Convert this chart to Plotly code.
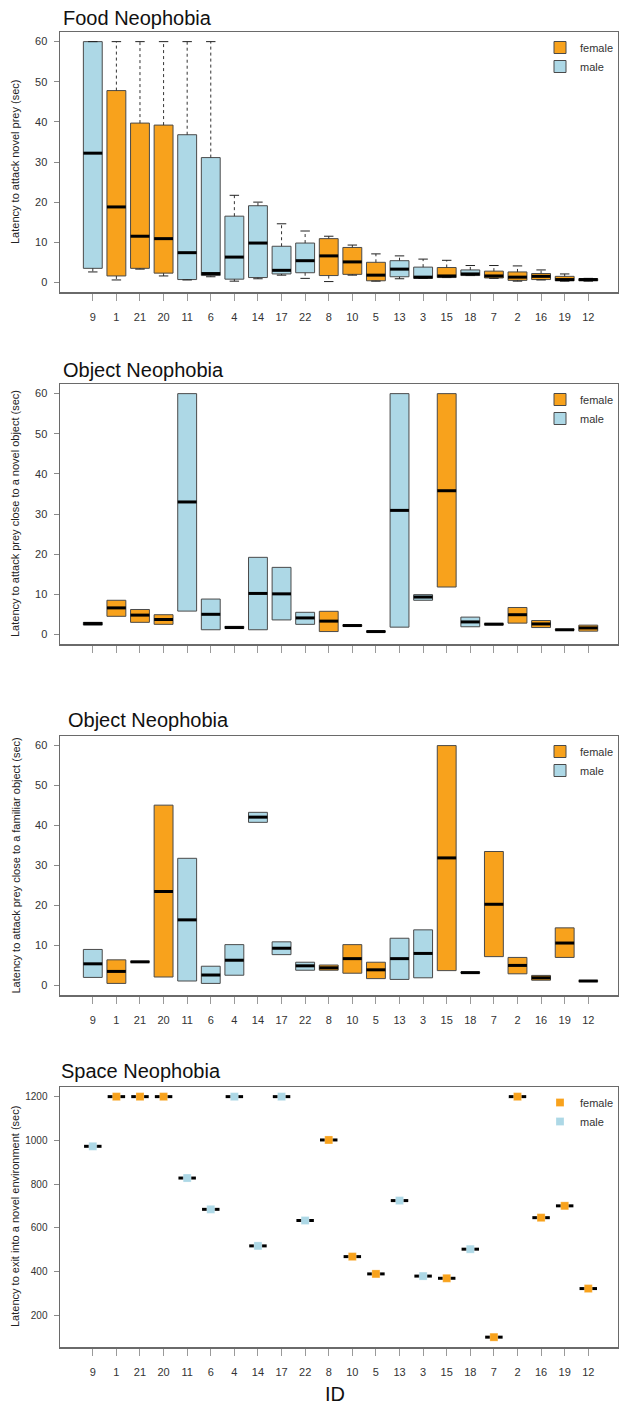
import plotly.graph_objects as go

# ---------------- data ----------------
ids = ["9", "1", "21", "20", "11", "6", "4", "14", "17", "22", "8",
       "10", "5", "13", "3", "15", "18", "7", "2", "16", "19", "12"]
sex = ["male", "female", "female", "female", "male", "male", "male", "male", "male", "male", "female",
       "female", "female", "male", "male", "female", "male", "female", "female", "female", "female", "female"]

# Food neophobia (latency to attack novel prey, sec)
food_low = [2.6, 0.6, 3.3, 1.6, 0.6, 1.4, 0.3, 0.9, 1.8, 1.0, 0.2,
            1.8, 0.3, 0.9, 1.0, 1.2, 1.7, 1.0, 0.3, 0.6, 0.3, 0.3]
food_q1 = [3.5, 1.6, 3.5, 2.3, 0.7, 1.7, 0.8, 1.2, 2.1, 2.4, 1.7,
           2.0, 0.4, 1.4, 1.0, 1.2, 1.7, 1.1, 0.5, 0.7, 0.4, 0.4]
food_med = [32.2, 18.8, 11.5, 10.9, 7.4, 2.2, 6.3, 9.8, 3.0, 5.4, 6.6,
            5.1, 1.8, 3.3, 1.3, 1.6, 2.1, 1.6, 1.3, 1.5, 0.7, 0.7]
food_q3 = [60.0, 47.8, 39.7, 39.2, 36.8, 31.1, 16.5, 19.1, 9.0, 9.8, 10.9,
           8.7, 5.0, 5.4, 3.8, 3.7, 3.1, 2.8, 2.6, 2.2, 1.5, 0.9]
food_high = [60.0, 60.0, 60.0, 60.0, 60.0, 60.0, 21.7, 20.0, 14.6, 12.8, 11.5,
             9.3, 7.1, 6.6, 5.8, 5.5, 4.2, 4.2, 4.1, 3.1, 2.1, 1.0]

# Object neophobia (novel object, sec)
novel_q1 = [2.3, 4.5, 3.0, 2.5, 5.8, 1.15, 1.5, 1.15, 3.6, 2.5, 0.7,
            2.0, 0.55, 1.8, 8.5, 11.8, 1.9, 2.35, 2.8, 1.7, 1.05, 0.8]
novel_med = [2.7, 6.6, 4.8, 3.7, 33.0, 5.0, 1.7, 10.2, 10.1, 4.1, 3.3,
             2.2, 0.7, 30.9, 9.3, 35.8, 3.1, 2.55, 4.9, 2.6, 1.15, 1.6]
novel_q3 = [3.0, 8.5, 6.2, 4.9, 60.0, 8.8, 2.0, 19.2, 16.7, 5.5, 5.75,
            2.4, 0.85, 60.0, 9.9, 60.0, 4.3, 2.7, 6.7, 3.45, 1.25, 2.3]

# Object neophobia (familiar object, sec)
famil_q1 = [2.0, 0.5, 5.8, 2.1, 1.1, 0.5, 2.55, 40.8, 7.7, 3.8, 3.8,
            3.05, 1.7, 1.5, 1.9, 3.7, 3.1, 7.2, 2.9, 1.3, 7.0, 1.0]
famil_med = [5.4, 3.5, 5.9, 23.5, 16.4, 2.6, 6.3, 42.1, 9.3, 4.9, 4.4,
             6.7, 3.9, 6.7, 8.0, 31.9, 3.2, 20.3, 5.0, 1.9, 10.6, 1.1]
famil_q3 = [9.0, 6.4, 6.0, 45.1, 31.8, 4.8, 10.2, 43.3, 10.9, 5.8, 5.1,
            10.2, 5.8, 11.8, 13.9, 60.0, 3.3, 33.5, 7.0, 2.5, 14.4, 1.2]

# Space neophobia (latency to exit into a novel environment, sec)
space = [973, 1200, 1200, 1200, 828, 685, 1200, 518, 1200, 634, 1002,
         469, 390, 725, 380, 370, 503, 101, 1200, 647, 701, 323]

titles = ["Food Neophobia", "Object Neophobia", "Object Neophobia", "Space Neophobia"]
ylabels = ["Latency to attack novel prey (sec)",
           "Latency to attack prey close to a novel object (sec)",
           "Latency to attack prey close to a familiar object (sec)",
           "Latency to exit into a novel environment (sec)"]

# ---------------- styling ----------------
W, H = 619, 1407
ORANGE = "#F8A21C"
BLUE = "#ADD8E6"
COLORS = {"female": ORANGE, "male": BLUE}
FONT = "Liberation Sans, Arial, sans-serif"
pos = list(range(1, len(ids) + 1))
BOXW = 0.8

# panel frame positions (page pixels)
panels = [(32, 292), (384, 644), (736, 995), (1087, 1347)]
title_y = [18, 370, 720, 1071]
title_x = [61, 61, 66, 59]
X0, X1 = 60, 618


def fx(px):
    return px / W


def fy(px):
    return 1 - px / H


fig = go.Figure()


def axn(k):
    return "" if k == 1 else str(k)


def add_boxes(k, q1, med, q3, low=None, high=None):
    xa, ya = "x" + axn(k), "y" + axn(k)
    leg = "legend" + axn(k)
    for s in ["female", "male"]:
        idx = [i for i in range(len(ids)) if sex[i] == s]
        fig.add_trace(go.Bar(
            x=[pos[i] for i in idx],
            y=[q3[i] - q1[i] for i in idx],
            base=[q1[i] for i in idx],
            width=BOXW,
            marker=dict(color=COLORS[s], line=dict(color="#4a4a4a", width=1)),
            name=s, legend=leg, xaxis=xa, yaxis=ya, hoverinfo="skip"))
    if low is not None:
        wx, wy, cx, cy = [], [], [], []
        for i in range(len(ids)):
            p = pos[i]
            if high[i] > q3[i]:
                wx += [p, p, None]
                wy += [q3[i], high[i], None]
            if low[i] < q1[i]:
                wx += [p, p, None]
                wy += [q1[i], low[i], None]
            cx += [p - BOXW / 4, p + BOXW / 4, None, p - BOXW / 4, p + BOXW / 4, None]
            cy += [high[i], high[i], None, low[i], low[i], None]
        fig.add_trace(go.Scatter(x=wx, y=wy, mode="lines", showlegend=False,
                                 line=dict(color="#333333", width=1, dash="3px,3px"),
                                 xaxis=xa, yaxis=ya, hoverinfo="skip"))
        fig.add_trace(go.Scatter(x=cx, y=cy, mode="lines", showlegend=False,
                                 line=dict(color="#222222", width=1),
                                 xaxis=xa, yaxis=ya, hoverinfo="skip"))
    mx, my = [], []
    for i in range(len(ids)):
        mx += [pos[i] - BOXW / 2, pos[i] + BOXW / 2, None]
        my += [med[i], med[i], None]
    fig.add_trace(go.Scatter(x=mx, y=my, mode="lines", showlegend=False,
                             line=dict(color="black", width=3),
                             xaxis=xa, yaxis=ya, hoverinfo="skip"))


add_boxes(1, food_q1, food_med, food_q3, food_low, food_high)
add_boxes(2, novel_q1, novel_med, novel_q3)
add_boxes(3, famil_q1, famil_med, famil_q3)

# space panel: median line + square point
lx, ly = [], []
for i in range(len(ids)):
    lx += [pos[i] - 0.37, pos[i] + 0.37, None]
    ly += [space[i], space[i], None]
fig.add_trace(go.Scatter(x=lx, y=ly, mode="lines", showlegend=False,
                         line=dict(color="black", width=3),
                         xaxis="x4", yaxis="y4", hoverinfo="skip"))
for s in ["female", "male"]:
    idx = [i for i in range(len(ids)) if sex[i] == s]
    fig.add_trace(go.Scatter(
        x=[pos[i] for i in idx], y=[space[i] for i in idx], mode="markers",
        marker=dict(symbol="square", size=8, color=COLORS[s],
                    line=dict(color="rgba(255,255,255,0.5)", width=0.5)),
        name=s, legend="legend4", xaxis="x4", yaxis="y4", hoverinfo="skip"))

layout = dict(
    width=W, height=H, margin=dict(l=0, r=0, t=0, b=0),
    paper_bgcolor="white", plot_bgcolor="white",
    barmode="overlay", showlegend=True,
    font=dict(family=FONT, size=11, color="#333333"),
)

yranges = [[-2.4, 62.4], [-2.4, 62.4], [-2.4, 62.4], [56, 1244]]
ytick_vals = [[0, 10, 20, 30, 40, 50, 60]] * 3 + [[200, 400, 600, 800, 1000, 1200]]

annotations = []
for k in range(1, 5):
    top, bot = panels[k - 1]
    layout["xaxis" + axn(k)] = dict(
        domain=[fx(X0), fx(X1)], anchor="y" + axn(k),
        range=[-0.39, 23.26], tickmode="array", tickvals=pos, ticktext=ids,
        showticklabels=(k != 2), ticks="outside", ticklen=7, tickcolor="#9a9a9a",
        ticklabelstandoff=7,
        tickfont=dict(size=11, color="#333333", family=FONT),
        showline=True, mirror=True, linecolor="#6a6a6a", linewidth=1.5,
        showgrid=False, zeroline=False, fixedrange=True)
    layout["yaxis" + axn(k)] = dict(
        domain=[fy(bot), fy(top)], anchor="x" + axn(k),
        range=yranges[k - 1], tickmode="array", tickvals=ytick_vals[k - 1],
        ticks="outside", ticklen=5, tickcolor="#8a8a8a",
        ticklabelstandoff=4,
        tickfont=dict(size=11 if k < 4 else 10, color="#333333", family=FONT),
        showline=True, mirror=True, linecolor="#6a6a6a", linewidth=1.5,
        showgrid=False, zeroline=False, fixedrange=True)
    layout["legend" + axn(k)] = dict(
        x=fx(540), xanchor="left", y=fy(top + 1), yanchor="top",
        bgcolor="rgba(0,0,0,0)", font=dict(size=11, color="#333333", family=FONT),
        itemwidth=30, tracegroupgap=0, traceorder="normal")
    annotations.append(dict(
        text=titles[k - 1], xref="paper", yref="paper",
        x=fx(title_x[k - 1]), y=fy(title_y[k - 1]), xanchor="left", yanchor="middle",
        showarrow=False, font=dict(size=20, color="#111111", family=FONT)))
    annotations.append(dict(
        text=ylabels[k - 1], xref="paper", yref="paper",
        x=fx(15), y=fy((top + bot) / 2), xanchor="center", yanchor="middle",
        textangle=-90, showarrow=False,
        font=dict(size=11, color="#222222", family=FONT)))

annotations.append(dict(
    text="ID", xref="paper", yref="paper", x=fx(335), y=fy(1394),
    xanchor="center", yanchor="middle", showarrow=False,
    font=dict(size=20, color="#111111", family=FONT)))
layout["annotations"] = annotations

fig.update_layout(**layout)
fig.write_html("out.html",
               config={"displayModeBar": False, "staticPlot": True},
               post_script="document.body.style.margin='0';document.body.style.overflow='hidden';")
